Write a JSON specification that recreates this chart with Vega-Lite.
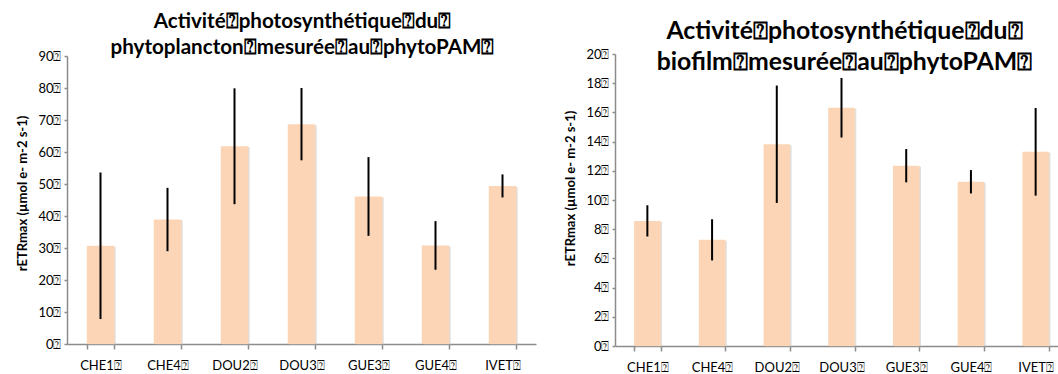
{
  "$schema": "https://vega.github.io/schema/vega-lite/v6.json",
  "background": "white",
  "padding": {"left": 16, "top": 12, "right": 0, "bottom": 0},
  "bounds": "flush",
  "center": true,
  "spacing": 79,
  "config": {
    "font": "Lato",
    "view": {"stroke": null},
    "axis": {
      "grid": false,
      "domainColor": "#8c8c8c",
      "domainWidth": 1.5,
      "tickColor": "#8c8c8c",
      "tickWidth": 1.5,
      "labelColor": "#000000",
      "labelFont": "Lato",
      "labelFontSize": 13,
      "labelOverlap": false,
      "titleFont": "Lato",
      "titleColor": "#000000"
    },
    "title": {"font": "Lato", "fontWeight": "bold", "color": "#000000", "frame": "group", "anchor": "middle", "baseline": "alphabetic"}
  },
  "hconcat": [
    {
      "width": 469,
      "height": 288,
      "title": {
        "text": ["Activité⍰photosynthétique⍰du⍰", "phytoplancton⍰mesurée⍰au⍰phytoPAM⍰"],
        "fontSize": 20.6,
        "lineHeight": 26,
        "offset": -9,
        "dx": 1
      },
      "data": {
        "values": [
          {"site": "CHE1", "mean": 30.7, "err": 22.9},
          {"site": "CHE4", "mean": 38.9, "err": 9.9},
          {"site": "DOU2", "mean": 61.8, "err": 18.1},
          {"site": "DOU3", "mean": 68.7, "err": 11.3},
          {"site": "GUE3", "mean": 46.1, "err": 12.3},
          {"site": "GUE4", "mean": 30.8, "err": 7.6},
          {"site": "IVET", "mean": 49.4, "err": 3.6}
        ]
      },
      "encoding": {
        "x": {
          "field": "site",
          "type": "nominal",
          "sort": null,
          "scale": {"paddingInner": 0.59, "paddingOuter": 0.295},
          "axis": {
            "title": null,
            "labelAngle": 0,
            "tickBand": "extent",
            "tickSize": 5,
            "labelPadding": 10,
            "labelExpr": "datum.label ? datum.label + '⍰' : ''"
          }
        },
        "y": {
          "field": "mean",
          "type": "quantitative",
          "title": "rETRmax (µmol e- m-2 s-1)",
          "scale": {"domain": [0, 90], "nice": false},
          "axis": {
            "values": [0, 10, 20, 30, 40, 50, 60, 70, 80, 90],
            "labelOverlap": false,
            "tickSize": 3,
            "labelPadding": 3,
            "labelExpr": "datum.label + '⍰'",
            "titleFontSize": 13,
            "titleFontWeight": "bold",
            "titleLimit": 400,
            "titleY": 137,
            "titlePadding": 8
          }
        }
      },
      "layer": [
        {"mark": {"type": "bar", "color": "#b8aea6", "opacity": 0.4, "xOffset": 1.5, "yOffset": 1}},
        {"mark": {"type": "bar", "color": "#FBD5B5"}},
        {
          "mark": {"type": "errorbar", "color": "#000000", "thickness": 2},
          "encoding": {"yError": {"field": "err"}}
        }
      ]
    },
    {
      "width": 453,
      "height": 292,
      "title": {
        "text": ["Activité⍰photosynthétique⍰du⍰", "biofilm⍰mesurée⍰au⍰phytoPAM⍰"],
        "fontSize": 24.8,
        "lineHeight": 31,
        "offset": -27,
        "dx": 3
      },
      "data": {
        "values": [
          {"site": "CHE1", "mean": 8.57, "err": 1.07},
          {"site": "CHE4", "mean": 7.27, "err": 1.41},
          {"site": "DOU2", "mean": 13.82, "err": 4.02},
          {"site": "DOU3", "mean": 16.32, "err": 2.04},
          {"site": "GUE3", "mean": 12.35, "err": 1.14},
          {"site": "GUE4", "mean": 11.25, "err": 0.8},
          {"site": "IVET", "mean": 13.3, "err": 3.0}
        ]
      },
      "encoding": {
        "x": {
          "field": "site",
          "type": "nominal",
          "sort": null,
          "scale": {"paddingInner": 0.59, "paddingOuter": 0.295},
          "axis": {
            "title": null,
            "labelAngle": 0,
            "tickBand": "extent",
            "tickSize": 5,
            "labelPadding": 10,
            "labelExpr": "datum.label ? datum.label + '⍰' : ''"
          }
        },
        "y": {
          "field": "mean",
          "type": "quantitative",
          "title": "rETRmax (µmol e- m-2 s-1)",
          "scale": {"domain": [0, 20], "nice": false},
          "axis": {
            "values": [0, 2, 4, 6, 8, 10, 12, 14, 16, 18, 20],
            "labelOverlap": false,
            "tickSize": 3,
            "labelPadding": 3,
            "labelExpr": "datum.label + '⍰'",
            "titleFontSize": 13,
            "titleFontWeight": "bold",
            "titleLimit": 400,
            "titleY": 134,
            "titlePadding": 8
          }
        }
      },
      "layer": [
        {"mark": {"type": "bar", "color": "#b8aea6", "opacity": 0.4, "xOffset": 1.5, "yOffset": 1}},
        {"mark": {"type": "bar", "color": "#FBD5B5"}},
        {
          "mark": {"type": "errorbar", "color": "#000000", "thickness": 2},
          "encoding": {"yError": {"field": "err"}}
        }
      ]
    }
  ]
}
